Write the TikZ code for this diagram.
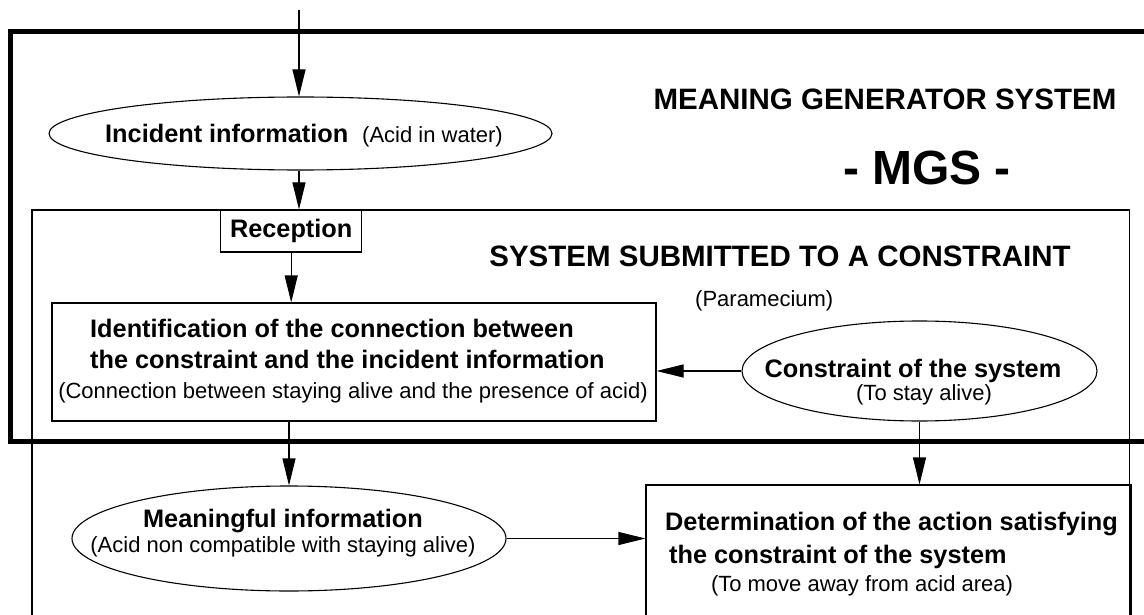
\documentclass[tikz,border=0pt]{standalone}
\usepackage{fontspec}
\setmainfont{Liberation Sans}
\usetikzlibrary{arrows.meta,shapes.geometric}

\begin{document}
\begin{tikzpicture}[x=1pt,y=-1pt,
  frame/.style={draw, line width=1.1pt},
  ell/.style={draw, ellipse, line width=1.1pt, inner sep=0pt},
  bx/.style={draw, rectangle, line width=1.1pt, inner sep=0pt},
  arr/.style={line width=1.1pt, -{Triangle[length=27pt,width=13pt]}},
  lbl/.style={font=\fontsize{25.3}{30}\selectfont\bfseries, inner sep=0pt},
  sub/.style={font=\fontsize{22}{26}\selectfont, inner sep=0pt},
  head/.style={font=\fontsize{29.5}{35}\selectfont\bfseries, inner sep=0pt},
  big/.style={font=\fontsize{48}{56}\selectfont\bfseries, inner sep=0pt},
  ]
\useasboundingbox (0,0) rectangle (1144,615);
\clip (0,0) rectangle (1144,615);
\fill[white] (0,0) rectangle (1144,615);

% outer frame: the meaning generator system
\draw[line width=5pt] (1170,31.5) -- (10.5,31.5) -- (10.5,441.5) -- (1170,441.5);
% inner frame: the system submitted to a constraint
\draw[frame] (1129.5,660) -- (1129.5,210) -- (32,210) -- (32,660);

% headings
\node[head, anchor=base] (mgsT) at (885,110) {MEANING GENERATOR SYSTEM};
\node[big, anchor=base] (mgs) at (927,185) {- MGS -};
\node[head, anchor=base] (ssc) at (780,266) {SYSTEM SUBMITTED TO A CONSTRAINT};
\node[sub, anchor=base west] (par) at (695,306) {(Paramecium)};

% incident information
\node[ell, minimum width=503pt, minimum height=73pt] (inc) at (300.5,133.5) {};
\node[lbl, anchor=base west] (incT) at (105,143) {Incident information};
\node[sub, anchor=base west] (incS) at (362,143) {(Acid in water)};

% reception
\node[bx, lbl, minimum width=141pt, minimum height=42pt] (rec) at (291.2,231) {Reception};

% identification of the connection
\node[bx, minimum width=604pt, minimum height=118pt] (idf) at (354,362) {};
\node[lbl, anchor=base west] (idf1) at (90,337) {Identification of the connection between};
\node[lbl, anchor=base west] (idf2) at (90,368) {the constraint and the incident information};
\node[sub, anchor=base] (idf3) at (353,398) {(Connection between staying alive and the presence of acid)};

% constraint of the system
\node[ell, minimum width=355pt, minimum height=100pt] (con) at (919.5,371) {};
\node[lbl, anchor=base] (con1) at (913,377) {Constraint of the system};
\node[sub, anchor=base] (con2) at (924,400) {(To stay alive)};

% meaningful information
\node[ell, minimum width=434pt, minimum height=105pt] (mea) at (289,538.5) {};
\node[lbl, anchor=base] (mea1) at (283,527) {Meaningful information};
\node[sub, anchor=base] (mea2) at (283,552) {(Acid non compatible with staying alive)};

% determination of the action
\node[bx, minimum width=485pt, minimum height=215pt] (det) at (888.5,592.5) {};
\node[lbl, anchor=base west] (det1) at (665,530) {Determination of the action satisfying};
\node[lbl, anchor=base west] (det2) at (669,563) {the constraint of the system};
\node[sub, anchor=base] (det3) at (862,591) {(To move away from acid area)};

% connectors
\coordinate (src) at (299,10);
\draw[arr] (src) -- (src |- inc.north);
\draw[arr] (inc.south -| src) -- (rec.north -| src);
\draw[arr] (rec.south) -- (rec.south |- idf.north);
\draw[arr] (con.west) -- (idf.east |- con.west);
\draw[arr] (mea.north |- idf.south) -- (mea.north);
\draw[arr] (con.south) -- (con.south |- det.north);
\draw[arr] (mea.east) -- (det.west |- mea.east);
\end{tikzpicture}
\end{document}
